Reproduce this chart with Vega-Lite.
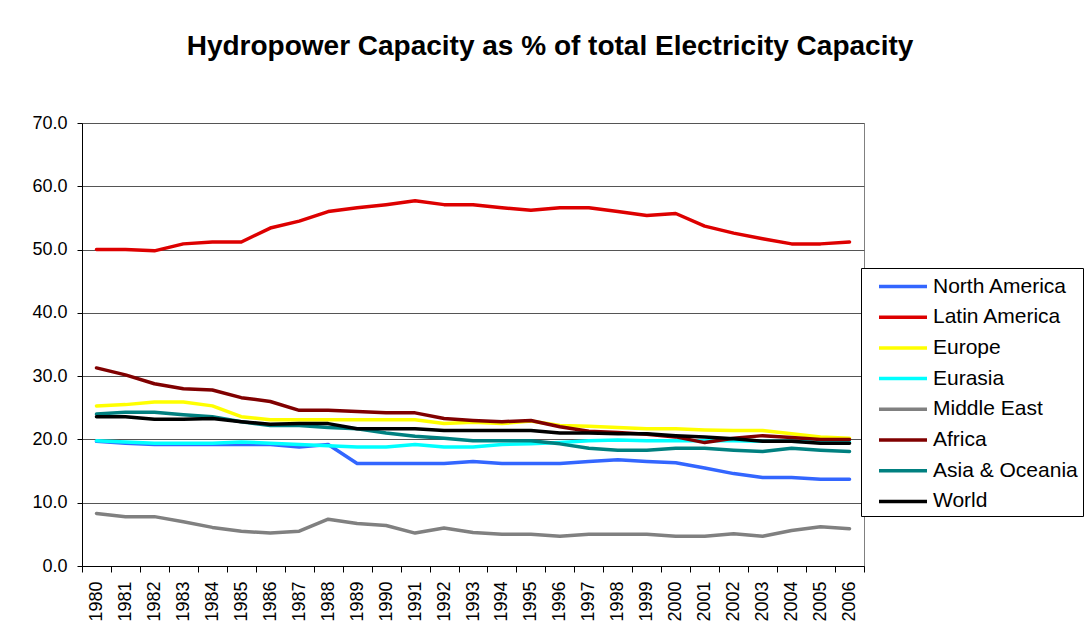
{
  "$schema": "https://vega.github.io/schema/vega-lite/v6.json",
  "width": 782,
  "height": 443,
  "autosize": {"type": "none"},
  "padding": {"left": 82, "top": 123, "right": 222, "bottom": 78},
  "background": "white",
  "title": {"text": "Hydropower Capacity as % of total Electricity Capacity", "font": "Liberation Sans", "fontSize": 28, "fontWeight": "bold", "color": "black", "anchor": "middle", "dx": 77, "offset": 53},
  "datasets": {
    "wide": [
      {"year": 1980, "North America": 19.7, "Latin America": 50.0, "Europe": 25.3, "Eurasia": 19.8, "Middle East": 8.3, "Africa": 31.3, "Asia & Oceania": 24.0, "World": 23.6},
      {"year": 1981, "North America": 19.4, "Latin America": 50.0, "Europe": 25.5, "Eurasia": 19.6, "Middle East": 7.8, "Africa": 30.2, "Asia & Oceania": 24.3, "World": 23.6},
      {"year": 1982, "North America": 19.2, "Latin America": 49.8, "Europe": 25.9, "Eurasia": 19.4, "Middle East": 7.8, "Africa": 28.8, "Asia & Oceania": 24.3, "World": 23.2},
      {"year": 1983, "North America": 19.2, "Latin America": 50.9, "Europe": 25.9, "Eurasia": 19.4, "Middle East": 7.0, "Africa": 28.0, "Asia & Oceania": 23.9, "World": 23.2},
      {"year": 1984, "North America": 19.2, "Latin America": 51.2, "Europe": 25.3, "Eurasia": 19.4, "Middle East": 6.1, "Africa": 27.8, "Asia & Oceania": 23.6, "World": 23.3},
      {"year": 1985, "North America": 19.2, "Latin America": 51.2, "Europe": 23.6, "Eurasia": 19.6, "Middle East": 5.5, "Africa": 26.6, "Asia & Oceania": 22.8, "World": 22.8},
      {"year": 1986, "North America": 19.2, "Latin America": 53.4, "Europe": 23.1, "Eurasia": 19.4, "Middle East": 5.2, "Africa": 26.0, "Asia & Oceania": 22.2, "World": 22.4},
      {"year": 1987, "North America": 18.8, "Latin America": 54.5, "Europe": 23.1, "Eurasia": 19.2, "Middle East": 5.5, "Africa": 24.6, "Asia & Oceania": 22.2, "World": 22.5},
      {"year": 1988, "North America": 19.2, "Latin America": 56.0, "Europe": 23.1, "Eurasia": 19.0, "Middle East": 7.4, "Africa": 24.6, "Asia & Oceania": 21.9, "World": 22.5},
      {"year": 1989, "North America": 16.2, "Latin America": 56.6, "Europe": 23.1, "Eurasia": 18.8, "Middle East": 6.7, "Africa": 24.4, "Asia & Oceania": 21.7, "World": 21.7},
      {"year": 1990, "North America": 16.2, "Latin America": 57.1, "Europe": 23.1, "Eurasia": 18.8, "Middle East": 6.4, "Africa": 24.2, "Asia & Oceania": 21.0, "World": 21.7},
      {"year": 1991, "North America": 16.2, "Latin America": 57.7, "Europe": 23.1, "Eurasia": 19.2, "Middle East": 5.2, "Africa": 24.2, "Asia & Oceania": 20.5, "World": 21.7},
      {"year": 1992, "North America": 16.2, "Latin America": 57.1, "Europe": 22.5, "Eurasia": 18.8, "Middle East": 6.0, "Africa": 23.3, "Asia & Oceania": 20.2, "World": 21.4},
      {"year": 1993, "North America": 16.5, "Latin America": 57.1, "Europe": 22.7, "Eurasia": 18.8, "Middle East": 5.3, "Africa": 23.0, "Asia & Oceania": 19.8, "World": 21.4},
      {"year": 1994, "North America": 16.2, "Latin America": 56.6, "Europe": 22.5, "Eurasia": 19.2, "Middle East": 5.0, "Africa": 22.8, "Asia & Oceania": 19.8, "World": 21.4},
      {"year": 1995, "North America": 16.2, "Latin America": 56.2, "Europe": 22.9, "Eurasia": 19.3, "Middle East": 5.0, "Africa": 23.0, "Asia & Oceania": 19.8, "World": 21.4},
      {"year": 1996, "North America": 16.2, "Latin America": 56.6, "Europe": 22.2, "Eurasia": 19.5, "Middle East": 4.7, "Africa": 22.0, "Asia & Oceania": 19.3, "World": 21.0},
      {"year": 1997, "North America": 16.5, "Latin America": 56.6, "Europe": 22.1, "Eurasia": 19.8, "Middle East": 5.0, "Africa": 21.3, "Asia & Oceania": 18.6, "World": 21.0},
      {"year": 1998, "North America": 16.8, "Latin America": 56.0, "Europe": 21.9, "Eurasia": 19.9, "Middle East": 5.0, "Africa": 21.1, "Asia & Oceania": 18.3, "World": 20.9},
      {"year": 1999, "North America": 16.5, "Latin America": 55.4, "Europe": 21.7, "Eurasia": 19.8, "Middle East": 5.0, "Africa": 20.8, "Asia & Oceania": 18.3, "World": 20.9},
      {"year": 2000, "North America": 16.3, "Latin America": 55.7, "Europe": 21.7, "Eurasia": 19.8, "Middle East": 4.7, "Africa": 20.4, "Asia & Oceania": 18.6, "World": 20.6},
      {"year": 2001, "North America": 15.5, "Latin America": 53.7, "Europe": 21.5, "Eurasia": 19.8, "Middle East": 4.7, "Africa": 19.5, "Asia & Oceania": 18.6, "World": 20.4},
      {"year": 2002, "North America": 14.6, "Latin America": 52.6, "Europe": 21.4, "Eurasia": 19.8, "Middle East": 5.1, "Africa": 20.2, "Asia & Oceania": 18.3, "World": 20.1},
      {"year": 2003, "North America": 14.0, "Latin America": 51.7, "Europe": 21.4, "Eurasia": 19.7, "Middle East": 4.7, "Africa": 20.6, "Asia & Oceania": 18.1, "World": 19.7},
      {"year": 2004, "North America": 14.0, "Latin America": 50.9, "Europe": 20.9, "Eurasia": 19.7, "Middle East": 5.6, "Africa": 20.3, "Asia & Oceania": 18.6, "World": 19.7},
      {"year": 2005, "North America": 13.7, "Latin America": 50.9, "Europe": 20.4, "Eurasia": 19.6, "Middle East": 6.2, "Africa": 20.0, "Asia & Oceania": 18.3, "World": 19.4},
      {"year": 2006, "North America": 13.7, "Latin America": 51.2, "Europe": 20.2, "Eurasia": 19.6, "Middle East": 5.9, "Africa": 20.0, "Asia & Oceania": 18.1, "World": 19.4}
    ]
  },
  "data": {"name": "wide"},
  "transform": [
    {"fold": ["North America", "Latin America", "Europe", "Eurasia", "Middle East", "Africa", "Asia & Oceania", "World"], "as": ["region", "value"]}
  ],
  "mark": {"type": "line", "strokeJoin": "round", "strokeCap": "round"},
  "encoding": {
    "x": {
      "field": "year", "type": "ordinal", "bandPosition": 0.5,
      "scale": {"type": "band", "paddingInner": 0, "paddingOuter": 0},
      "axis": {"title": null, "labelAngle": -90, "labelAlign": "right", "labelBaseline": "middle", "labelFont": "Liberation Sans", "labelFontSize": 18, "labelColor": "black", "labelPadding": 9, "tickSize": 6, "tickBand": "extent", "tickColor": "black", "domainColor": "black", "grid": false}
    },
    "y": {
      "field": "value", "type": "quantitative",
      "scale": {"domain": [0, 70], "nice": false},
      "axis": {"title": null, "values": [0, 10, 20, 30, 40, 50, 60, 70], "format": ".1f", "labelFont": "Liberation Sans", "labelFontSize": 18, "labelColor": "black", "labelPadding": 10, "tickSize": 5, "tickColor": "black", "domainColor": "black", "gridColor": "#555555", "gridOpacity": 1}
    },
    "color": {
      "field": "region", "type": "nominal",
      "scale": {"domain": ["North America", "Latin America", "Europe", "Eurasia", "Middle East", "Africa", "Asia & Oceania", "World"], "range": ["#3366FF", "#DD0000", "#FFFF00", "#00FFFF", "#808080", "#800000", "#008080", "#000000"]},
      "legend": {"title": null, "orient": "none", "legendX": 779, "legendY": 145, "strokeColor": "black", "fillColor": "white", "padding": 4.5, "symbolType": "M-2,0H2", "symbolSize": 576, "symbolOffset": 23.5, "symbolStrokeWidth": {"expr": "indexof(['North America','Latin America','Middle East','World'], datum.value) >= 0 ? 3.5 : 1.5"}, "labelFont": "Liberation Sans", "labelFontSize": 21, "labelColor": "black", "labelOffset": 16, "labelLimit": 400, "rowPadding": 6.7}
    },
    "strokeWidth": {
      "field": "region", "type": "nominal",
      "scale": {"domain": ["North America", "Latin America", "Europe", "Eurasia", "Middle East", "Africa", "Asia & Oceania", "World"], "range": [3.5, 3.5, 1.5, 1.5, 3.5, 1.5, 1.5, 3.5]},
      "legend": null
    }
  },
  "config": {"view": {"stroke": "#808080"}}
}
